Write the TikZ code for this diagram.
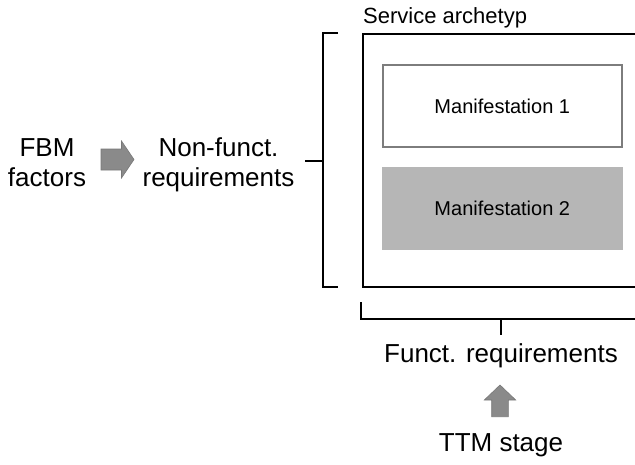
\documentclass[tikz,border=0pt]{standalone}
\usepackage{fontspec}
\setmainfont{Liberation Sans}
\definecolor{arrowgray}{RGB}{138,138,138}
\definecolor{arrowedge}{RGB}{120,120,120}
\definecolor{fillgray}{RGB}{182,182,182}
\definecolor{framegray}{RGB}{125,125,125}
\tikzset{
  bigfont/.style={font=\fontsize{26}{30}\selectfont},
  midfont/.style={font=\fontsize{22}{26}\selectfont},
  manifont/.style={font=\fontsize{20}{24}\selectfont},
  archbox/.style={draw=black, line width=2pt, inner sep=0pt},
  manibox/.style={draw=framegray, line width=1.4pt, minimum width=239pt, minimum height=82pt, inner sep=0pt, manifont},
  bracketline/.style={draw=black, line width=2pt},
  blockarrow/.style={fill=arrowgray, draw=arrowedge, line width=0.6pt, line join=miter},
  label/.style={inner sep=0pt, align=center}
}
\begin{document}
\begin{tikzpicture}[x=1pt, y=-1pt]
\useasboundingbox (0,0) rectangle (635,464);

% service archetype frame, running past the right edge
\node[archbox, anchor=north west, minimum width=320pt, minimum height=253pt] (arch) at (362,33) {};
\node[label, midfont, anchor=base west] (archlabel) at (363,23.5) {Service archetyp};

% manifestations
\node[manibox] (m1) at (502.3,106) {Manifestation 1};
\node[manibox, fill=fillgray, draw=fillgray] (m2) at (502.3,208.5) {Manifestation 2};

% left-hand labels
\node[label, bigfont] (fbm) at (47,162.4) {FBM\\factors};
\node[label, bigfont] (nf) at (218.5,165) {Non-funct.\\requirements};

% bracket spanning the frame height
\coordinate (lbtop) at (338,33);
\coordinate (lbbot) at (338,287);
\coordinate (lbmid) at (322.5,161);
\coordinate (lbtick) at (305,161);
\draw[bracketline] (lbtop) -- (322.5,33) -- (322.5,287) -- (lbbot);
\draw[bracketline] (lbmid) -- (lbtick);

% bracket spanning the frame width
\coordinate (bbl) at (361,302);
\coordinate (bbmid) at (500.5,319);
\coordinate (bbtick) at (500.5,335);
\draw[bracketline] (bbl) -- (361,319) -- (680,319);
\draw[bracketline] (bbmid) -- (bbtick);

% bottom labels
\node[label, bigfont, anchor=base] (fr) at (501,362.5) {Funct. requirements};
\node[label, bigfont, anchor=base] (ttm) at (501,451) {TTM stage};

% block arrows
\path[blockarrow] (101,149) -- (121.5,149) -- (121.5,141) -- (134,159.5)
  -- (121.5,178) -- (121.5,170) -- (101,170) -- cycle;
\path[blockarrow] (491.7,416.7) -- (491.7,400) -- (484.3,400) -- (500,385)
  -- (515.7,400) -- (508.3,400) -- (508.3,416.7) -- cycle;
\end{tikzpicture}
\end{document}
